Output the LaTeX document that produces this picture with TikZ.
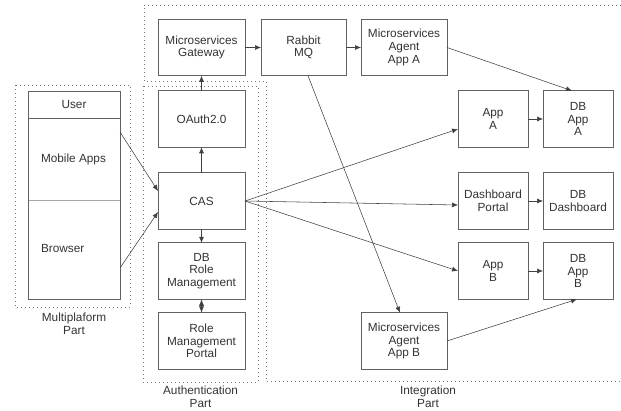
\documentclass[tikz,border=0pt]{standalone}
\usepackage{fontspec}
\setmainfont{Liberation Sans}
\usetikzlibrary{arrows.meta,calc}
\begin{document}
\begin{tikzpicture}[x=1pt,y=-1pt,
  every node/.style={inner sep=0pt,outer sep=0pt},
  lbl/.style={font=\fontsize{11.8}{12.6}\selectfont,text=black!80,align=center},
  box/.style={draw=black!62,line width=0.75pt,minimum height=56.5pt,align=center,
              font=\fontsize{11.8}{12.6}\selectfont,text=black!80},
  colauth/.style={box,minimum width=87pt},
  colmid/.style={box,minimum width=86pt},
  colapp/.style={box,minimum width=70pt},
  cell/.style={draw=black!62,line width=0.75pt,minimum width=92pt},
  region/.style={draw=black!55,line width=0.7pt,dash pattern=on 0.8pt off 3.2pt},
  link/.style={draw=black!75,line width=0.55pt,-{Latex[length=6pt,width=5pt]}},
  twoway/.style={draw=black!75,line width=0.55pt,{Latex[length=6.5pt,width=5pt]}-{Latex[length=6.5pt,width=5pt]}}]
\useasboundingbox (0,0) rectangle (621,410);

% grouping regions
\draw[region] (15,85) rectangle (130,307);
\draw[region] (143,86) rectangle (258,382);
\draw[region] (621,5) -- (144,5) -- (144,81) -- (266,81) -- (266,381) -- (621,381);

% client side stack
\node[cell,minimum height=27pt] (user) at (74,104.5) {};
\node[cell,minimum height=82pt] (mobile) at (74,159) {};
\node[cell,minimum height=99pt,draw=black!35] (browser) at (74,249.5) {};
\draw[black!62,line width=0.75pt] (28,91) rectangle (120,299);
\node[lbl] (usert) at (user.center) {User};
\node[lbl,anchor=west] (mobilet) at (41,159) {Mobile Apps};
\node[lbl,anchor=west] (browsert) at (41,248) {Browser};

% authentication column
\node[colauth] (gw) at (201.5,47.5) {Microservices\\Gateway};
\node[colauth] (oauth) at (201.5,119) {OAuth2.0};
\node[colauth] (cas) at (201.5,201) {CAS};
\node[colauth] (dbrole) at (201.5,271) {DB\\Role\\Management};
\node[colauth] (roleportal) at (201.5,341) {Role\\Management\\Portal};

% integration part
\node[box,minimum width=85pt] (mq) at (303.5,47.5) {Rabbit\\MQ};
\node[colmid] (agenta) at (404,47.5) {Microservices\\Agent\\App A};
\node[colmid] (agentb) at (404,341) {Microservices\\Agent\\App B};
\node[colapp] (appa) at (493,119) {App\\A};
\node[colapp] (dash) at (493,201) {Dashboard\\Portal};
\node[colapp] (appb) at (493,271) {App\\B};
\node[colapp] (dba) at (578,119) {DB\\App\\A};
\node[colapp] (dbdash) at (578,201) {DB\\Dashboard};
\node[colapp] (dbb) at (578,271) {DB\\App\\B};

% region captions
\node[lbl] (capmulti) at (74,324) {Multiplaform\\Part};
\node[lbl] (capauth) at (200.5,397) {Authentication\\Part};
\node[lbl] (capint) at (428,397) {Integration\\Part};

% connectors
\draw[link] ($(mobile.east)+(0,-27)$) -- ($(cas.west)+(0,-10)$);
\draw[link] ($(browser.east)+(0,18.5)$) -- ($(cas.west)+(0,11)$);
\draw[link] (cas) -- (oauth);
\draw[link] (oauth) -- (gw);
\draw[link] (cas) -- (dbrole);
\draw[twoway] (dbrole) -- (roleportal);
\draw[link] (gw) -- (mq);
\draw[link] (mq) -- (agenta);
\draw[link] (agenta.east) -- ($(dba.north)+(-6,0)$);
\draw[link] ($(mq.south)+(4.5,0)$) -- ($(agentb.north)+(-4,0)$);
\draw[link] (agentb.east) -- ($(dbb.south)+(-1,0)$);
\draw[link] (cas.east) -- ($(appa.west)+(0,10)$);
\draw[link] (cas.east) -- ($(dash.west)+(0,4)$);
\draw[link] (cas.east) -- (appb.west);
\draw[link] (appa) -- (dba);
\draw[link] (dash) -- (dbdash);
\draw[link] (appb) -- (dbb);
\end{tikzpicture}
\end{document}
